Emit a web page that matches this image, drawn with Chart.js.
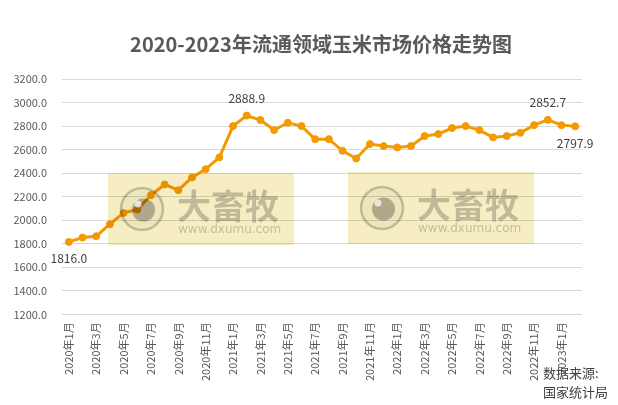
<!DOCTYPE html>
<html>
<head>
<meta charset="utf-8">
<script src="https://cdn.jsdelivr.net/npm/chart.js@4/dist/chart.umd.min.js"></script>
<style>
  html, body { margin: 0; padding: 0; background: #fff; }
  #wrap { width: 618px; height: 405px; }
</style>
</head>
<body>
<div id="wrap"><canvas id="grafico"></canvas></div>
<script>
// meses de 2020年1月 a 2023年2月
const meses = []
for (let a = 2020; a <= 2023; a++) {
  for (let m = 1; m <= 12; m++) {
    if (a == 2023 && m > 2) break
    meses.push(a + "年" + m + "月")
  }
}

// precio del maiz (元/吨)
const precios = [
  1816.0, 1853, 1864, 1966, 2062, 2091, 2213, 2304, 2255, 2363, 2434, 2534,
  2800, 2888.9, 2851, 2766, 2828, 2800, 2689, 2689, 2590, 2525, 2647, 2630,
  2619, 2630, 2715, 2732, 2783, 2800, 2766, 2704, 2715, 2743, 2808, 2852.7,
  2808, 2797.9
]

// etiquetas de valor: indice y posicion (arriba / abajo)
const etiquetasIdx = [0, 13, 35, 37]
const etiquetasPos = ["abajo", "arriba", "arriba", "abajo"]

const titulo = "2020-2023年流通领域玉米市场价格走势图"
const fuente = ["数据来源:", "国家统计局"]

const yMin = 1200
const yMax = 3200
const yPaso = 200

const FONT = "'Noto Sans CJK SC', 'Noto Sans', sans-serif"
const naranja = "#F39A00"
const gris = "#595959"

// marca de agua 大畜牧 (todo en multiply para que la linea se vea debajo)
const dibujarMarca = (ctx, x, y, w, h) => {
  ctx.save()
  ctx.globalCompositeOperation = "multiply"
  ctx.fillStyle = "#F6EEC2"
  ctx.fillRect(x, y, w, h)
  // logo circular
  const cx = x + 34, cy = y + h / 2
  ctx.beginPath()
  ctx.arc(cx, cy, 21, 0, Math.PI * 2)
  ctx.fillStyle = "#f6f6f6"
  ctx.fill()
  ctx.lineWidth = 2.5
  ctx.strokeStyle = "#cacaca"
  ctx.stroke()
  ctx.beginPath()
  ctx.arc(cx + 1.5, cy + 1, 11.5, 0, Math.PI * 2)
  ctx.fillStyle = "#bcbcbc"
  ctx.fill()
  ctx.globalCompositeOperation = "source-over"
  ctx.beginPath()
  ctx.arc(cx - 4, cy - 5, 3.5, 0, Math.PI * 2)
  ctx.fillStyle = "rgba(245,245,245,0.8)"
  ctx.fill()
  // texto
  ctx.globalCompositeOperation = "multiply"
  ctx.fillStyle = "#c8c8c8"
  ctx.font = "bold 34px " + FONT
  ctx.textAlign = "left"
  ctx.textBaseline = "alphabetic"
  ctx.fillText("大畜牧", x + 69, y + 46)
  ctx.font = "12px 'DejaVu Sans', sans-serif"
  ctx.fillStyle = "#cccccc"
  ctx.fillText("www.dxumu.com", x + 70, y + 60)
  ctx.restore()
}

const pluginTextos = {
  id: "textos",
  afterDatasetsDraw(chart) {
    const ctx = chart.ctx
    const meta = chart.getDatasetMeta(0)
    // marcas de agua
    dibujarMarca(ctx, 108, 173, 186, 72)
    dibujarMarca(ctx, 348, 172, 186, 72)
    // etiquetas de valor
    ctx.save()
    ctx.font = "12px " + FONT
    ctx.fillStyle = "#404040"
    ctx.textAlign = "center"
    ctx.textBaseline = "middle"
    for (let i = 0; i < etiquetasIdx.length; i++) {
      const p = meta.data[etiquetasIdx[i]]
      const dy = etiquetasPos[i] == "arriba" ? -17 : 17
      ctx.fillText(precios[etiquetasIdx[i]].toFixed(1), p.x, p.y + dy)
    }
    ctx.restore()
  },
  afterDraw(chart) {
    const ctx = chart.ctx
    ctx.save()
    // titulo
    ctx.font = "bold 20px " + FONT
    ctx.fillStyle = gris
    ctx.textAlign = "center"
    ctx.textBaseline = "middle"
    ctx.fillText(titulo, 321, 44)
    // fuente
    ctx.font = "13px " + FONT
    ctx.fillStyle = "#404040"
    ctx.textAlign = "left"
    ctx.fillText(fuente[0], 543, 373)
    ctx.fillText(fuente[1], 543, 392)
    ctx.restore()
  }
}

const config = {
  type: "line",
  data: {
    labels: meses,
    datasets: [{
      data: precios,
      borderColor: naranja,
      backgroundColor: naranja,
      borderWidth: 3,
      pointRadius: 3.5,
      pointBorderWidth: 1,
      pointBackgroundColor: naranja,
      pointBorderColor: naranja,
      tension: 0,
      clip: false
    }]
  },
  options: {
    responsive: true,
    maintainAspectRatio: false,
    animation: false,
    layout: { padding: { left: 10, right: 36, top: 79, bottom: 16 } },
    plugins: {
      legend: { display: false },
      title: { display: false },
      tooltip: { enabled: false }
    },
    scales: {
      x: {
        offset: true,
        grid: { display: false, drawTicks: false },
        border: { display: false },
        ticks: {
          autoSkip: false,
          minRotation: 90,
          maxRotation: 90,
          padding: 8,
          color: gris,
          font: { size: 11, family: FONT },
          callback: function(val, i) {
            return i % 2 == 0 ? this.getLabelForValue(val) : ""
          }
        }
      },
      y: {
        min: yMin,
        max: yMax,
        afterFit: (scale) => { scale.width = 52 },
        grid: { color: "#d9d9d9", drawTicks: false },
        border: { display: false },
        ticks: {
          stepSize: yPaso,
          padding: 15,
          color: gris,
          font: { size: 11, family: FONT },
          callback: (v) => v.toFixed(1)
        }
      }
    }
  },
  plugins: [pluginTextos]
}

const myChart = new Chart(document.getElementById("grafico"), config)
</script>
</body>
</html>
